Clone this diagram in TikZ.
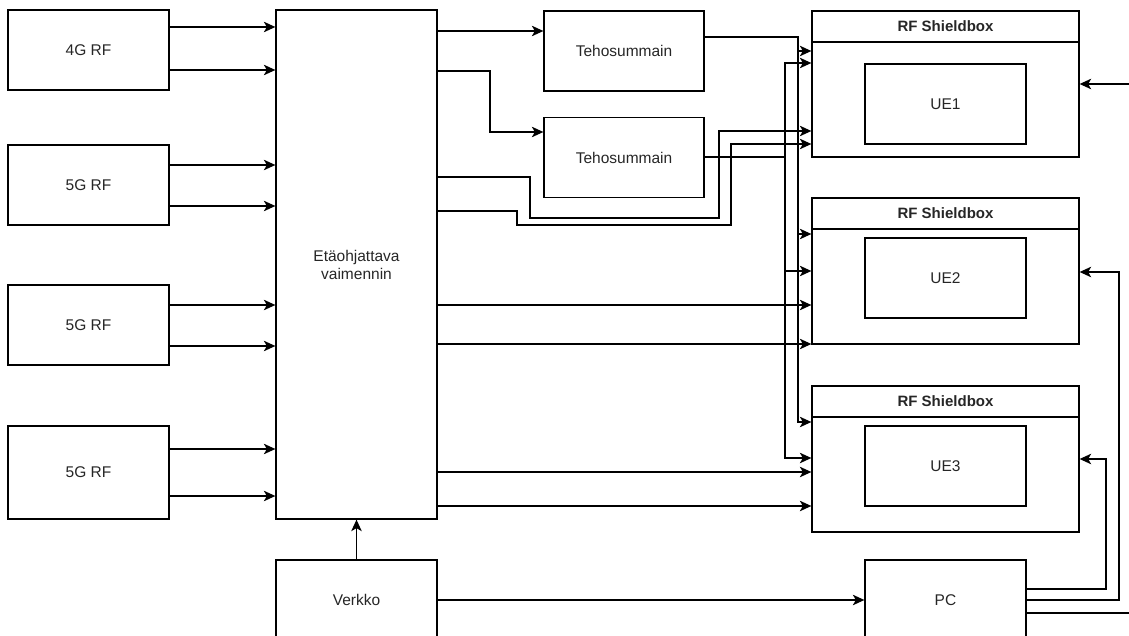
\documentclass[tikz,border=0pt]{standalone}
\usepackage{fontspec}
\setmainfont{Liberation Sans}
\usetikzlibrary{arrows.meta}
\tikzset{blk/.style = {draw, minimum width=161pt, minimum height=80pt, inner sep=0pt,
                       font=\fontsize{15.5}{18}\selectfont, text=black!85, align=center},
         lane/.style = {draw, minimum width=267pt, minimum height=115pt, inner sep=0pt},
         lanehead/.style = {draw, minimum width=267pt, minimum height=31pt, inner sep=0pt,
                            font=\fontsize{15}{18}\selectfont\bfseries, text=black!85},
         wire/.style = {-{Stealth[length=11.5pt, width=10.5pt, inset=3pt]}}}

\begin{document}
\begin{tikzpicture}[x=1pt, y=-1pt, line width=1.3pt]
    \useasboundingbox (0, 0) rectangle (1129, 636);
    \clip (0, 0) rectangle (1129, 636);

    \node [blk] (rfa) at (88.5, 50) {4G RF};
    \node [blk] (rfb) at (88.5, 185) {5G RF};
    \node [blk] (rfc) at (88.5, 325) {5G RF};
    \node [blk, minimum height=93pt] (rfd) at (88.5, 472.5) {5G RF};

    \node [blk, minimum height=509pt] (eta) at (356.5, 264.5) {Etäohjattava\\vaimennin};
    \node [blk] (verkko) at (356.5, 600) {Verkko};

    \node [blk, minimum width=160pt] (teho1) at (624, 51) {Tehosummain};
    \node [blk, minimum width=160pt] (teho2) at (624, 157.5) {Tehosummain};

    \node [lanehead] (sb1h) at (945.5, 26.5) {RF Shieldbox};
    \node [lane] (sb1) at (945.5, 99.5) {};
    \node [blk] (ue1) at (945.5, 104) {UE1};
    \node [lanehead] (sb2h) at (945.5, 213.5) {RF Shieldbox};
    \node [lane] (sb2) at (945.5, 286.5) {};
    \node [blk] (ue2) at (945.5, 278) {UE2};
    \node [lanehead] (sb3h) at (945.5, 401.5) {RF Shieldbox};
    \node [lane] (sb3) at (945.5, 474.5) {};
    \node [blk] (ue3) at (945.5, 466) {UE3};

    \node [blk] (pc) at (945.5, 600) {PC};
    \coordinate (ext1) at (1140, 84);
    \coordinate (ext2) at (1140, 613);

    \draw [wire] (rfa.east |- 0, 27) -- (eta.west |- 0, 27);
    \draw [wire] (rfa.east |- 0, 70) -- (eta.west |- 0, 70);
    \draw [wire] (rfb.east |- 0, 165) -- (eta.west |- 0, 165);
    \draw [wire] (rfb.east |- 0, 206) -- (eta.west |- 0, 206);
    \draw [wire] (rfc.east |- 0, 305) -- (eta.west |- 0, 305);
    \draw [wire] (rfc.east |- 0, 346) -- (eta.west |- 0, 346);
    \draw [wire] (rfd.east |- 0, 449) -- (eta.west |- 0, 449);
    \draw [wire] (rfd.east |- 0, 496) -- (eta.west |- 0, 496);

    \draw [wire] (eta.east |- 0, 31) -- (teho1.west |- 0, 31);
    \draw [wire] (eta.east |- 0, 71) -- (490, 71) -- (490, 132) -- (teho2.west |- 0, 132);

    \draw [wire] (teho1.east |- 0, 37) -- (798, 37) -- (798, 51) -- (sb1.west |- 0, 51);
    \draw [wire] (798, 51) -- (798, 234) -- (sb2.west |- 0, 234);
    \draw [wire] (798, 234) -- (798, 422) -- (sb3.west |- 0, 422);
    \draw [wire] (teho2.east |- 0, 157) -- (785, 157) -- (785, 63) -- (sb1.west |- 0, 63);
    \draw [wire] (785, 157) -- (785, 271) -- (sb2.west |- 0, 271);
    \draw [wire] (785, 271) -- (785, 458) -- (sb3.west |- 0, 458);

    \draw [wire] (eta.east |- 0, 177) -- (530, 177) -- (530, 218) -- (719, 218) -- (719, 131) -- (sb1.west |- 0, 131);
    \draw [wire] (eta.east |- 0, 211) -- (517, 211) -- (517, 225) -- (731, 225) -- (731, 144) -- (sb1.west |- 0, 144);
    \draw [wire] (eta.east |- 0, 305) -- (sb2.west |- 0, 305);
    \draw [wire] (eta.east |- 0, 344) -- (sb2.west |- 0, 344);
    \draw [wire] (eta.east |- 0, 472) -- (sb3.west |- 0, 472);
    \draw [wire] (eta.east |- 0, 506) -- (sb3.west |- 0, 506);

    \draw [wire] (verkko.north) -- (eta.south);
    \draw [wire] (verkko.east) -- (pc.west);

    \draw [wire] (pc.east |- 0, 589) -- (1106, 589) -- (1106, 459) -- (sb3.east |- 0, 459);
    \draw [wire] (pc.east |- 0, 600) -- (1119, 600) -- (1119, 272) -- (sb2.east |- 0, 272);
    \draw (pc.east |- 0, 613) -- (ext2);
    \draw [wire] (ext1) -- (sb1.east |- 0, 84);
  \end{tikzpicture}
\end{document}
